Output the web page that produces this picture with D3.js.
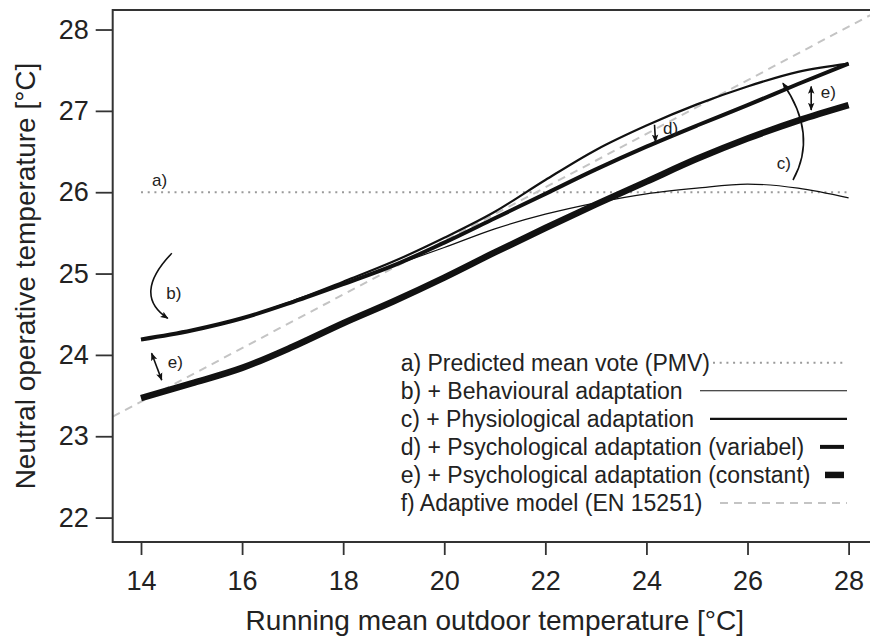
<!DOCTYPE html>
<html>
<head>
<meta charset="utf-8">
<script src="https://cdn.jsdelivr.net/npm/d3@7"></script>
<style>
  body { margin: 0; background: #fff; }
  text { font-family: "Liberation Sans", Arial, sans-serif; fill: #222; }
</style>
</head>
<body>
<div id="wrapper"></div>
<script>
// running mean outdoor temperature (x) and neutral temperatures per model
const outdoor = [14, 15, 16, 17, 18, 19, 20, 21, 22, 23, 24, 25, 26, 27, 28];
const behavioural = [24.19, 24.30, 24.45, 24.66, 24.88, 25.10, 25.32, 25.55, 25.73, 25.87, 25.98, 26.05, 26.10, 26.05, 25.93];
const physiological = [24.19, 24.30, 24.45, 24.66, 24.90, 25.15, 25.44, 25.76, 26.15, 26.52, 26.82, 27.08, 27.30, 27.48, 27.58];
const psychVariable = [24.19, 24.30, 24.45, 24.65, 24.87, 25.10, 25.38, 25.68, 25.98, 26.28, 26.56, 26.82, 27.07, 27.33, 27.58];
const psychConstant = [23.47, 23.65, 23.84, 24.10, 24.39, 24.66, 24.95, 25.26, 25.56, 25.85, 26.13, 26.41, 26.66, 26.88, 27.07];
const pmvX = [14, 28];
const pmvY = [26, 26];
const adaptiveX = [13.44, 28.56];
const adaptiveY = [23.24, 28.22];

const xTicks = [14, 16, 18, 20, 22, 24, 26, 28];
const yTicks = [22, 23, 24, 25, 26, 27, 28];

const legendLabels = [
  "a) Predicted mean vote (PMV)",
  "b) + Behavioural adaptation",
  "c) + Physiological adaptation",
  "d) + Psychological adaptation (variabel)",
  "e) + Psychological adaptation (constant)",
  "f) Adaptive model (EN 15251)",
];

let dimensions = {
  width: 870, height: 639,
  margin: { top: 10, left: 112.7 },
  boundedWidth: 764.2,
  boundedHeight: 532,
};

const styles = [
  { dash: "2,4.7", width: 2, color: "#9a9a9a", x0: 713, x1: 847 },
  { dash: null, width: 1.2, color: "#111", x0: 700, x1: 847 },
  { dash: null, width: 2.2, color: "#111", x0: 710, x1: 847 },
  { dash: null, width: 4, color: "#111", x0: 820, x1: 844 },
  { dash: null, width: 6.5, color: "#111", x0: 825, x1: 844 },
  { dash: "8,6", width: 2, color: "#c4c4c4", x0: 720, x1: 847 },
];

const wrapper = d3.select("#wrapper").append("svg")
  .attr("width", dimensions.width)
  .attr("height", dimensions.height);

const defs = wrapper.append("defs");
defs.append("clipPath").attr("id", "plotclip")
  .append("rect")
  .attr("width", dimensions.boundedWidth)
  .attr("height", dimensions.boundedHeight);
defs.append("marker")
  .attr("id", "head")
  .attr("viewBox", "0 0 10 10")
  .attr("refX", 9).attr("refY", 5)
  .attr("markerUnits", "userSpaceOnUse")
  .attr("markerWidth", 8).attr("markerHeight", 8)
  .attr("orient", "auto-start-reverse")
  .append("path").attr("d", "M0,1 L10,5 L0,9 L2,5 z").attr("fill", "#111");

const bounds = wrapper.append("g")
  .attr("transform", `translate(${dimensions.margin.left},${dimensions.margin.top})`);

const xScale = d3.scaleLinear()
  .domain([13.44, 28.56])
  .range([0, dimensions.boundedWidth]);

const yScale = d3.scaleLinear()
  .domain([21.70, 28.24])
  .range([dimensions.boundedHeight, 0]);

const lineGenerator = d3.line()
  .x(d => xScale(d[0]))
  .y(d => yScale(d[1]))
  .curve(d3.curveMonotoneX);

const plot = bounds.append("g").attr("clip-path", "url(#plotclip)");

const series = [
  { xs: pmvX, ys: pmvY, s: styles[0] },
  { xs: adaptiveX, ys: adaptiveY, s: styles[5] },
  { xs: outdoor, ys: behavioural, s: styles[1] },
  { xs: outdoor, ys: physiological, s: styles[2] },
  { xs: outdoor, ys: psychVariable, s: styles[3] },
  { xs: outdoor, ys: psychConstant, s: styles[4] },
];

series.forEach(({ xs, ys, s }) => {
  plot.append("path")
    .attr("d", lineGenerator(xs.map((x, i) => [x, ys[i]])))
    .attr("fill", "none")
    .attr("stroke", s.color)
    .attr("stroke-width", s.width)
    .attr("stroke-dasharray", s.dash);
});

// annotations in data units
const arrows = [
  { pts: [[14.61, 25.25], [13.82, 24.74], [14.53, 24.45]], start: false },
  { pts: [[26.90, 26.15], [27.40, 26.71], [26.70, 27.34]], start: false },
  { pts: [[14.21, 24.02], [14.41, 23.69]], start: true },
  { pts: [[27.26, 27.30], [27.26, 27.01]], start: true },
  { pts: [[24.16, 26.83], [24.18, 26.62]], start: false },
];
const notes = [
  { label: "a)", x: 14.22, y: 26.15 },
  { label: "b)", x: 14.50, y: 24.76 },
  { label: "c)", x: 26.58, y: 26.36 },
  { label: "d)", x: 24.33, y: 26.79 },
  { label: "e)", x: 14.53, y: 23.91 },
  { label: "e)", x: 27.45, y: 27.23 },
];

arrows.forEach(a => {
  const p = a.pts.map(d => [xScale(d[0]), yScale(d[1])]);
  const d = p.length === 3
    ? `M${p[0]}Q${p[1]} ${p[2]}`
    : `M${p[0]}L${p[1]}`;
  bounds.append("path")
    .attr("d", d)
    .attr("fill", "none")
    .attr("stroke", "#111")
    .attr("stroke-width", 1.6)
    .attr("marker-end", "url(#head)")
    .attr("marker-start", a.start ? "url(#head)" : null);
});

bounds.selectAll(".note").data(notes).join("text")
  .attr("class", "note")
  .attr("x", d => xScale(d.x))
  .attr("y", d => yScale(d.y))
  .attr("dy", "0.35em")
  .style("font-size", "17px")
  .text(d => d.label);

// legend
const legend = wrapper.append("g");
legendLabels.forEach((label, i) => {
  const y = 362.7 + i * 28.06;
  legend.append("text")
    .attr("x", 400.7).attr("y", y).attr("dy", "0.35em")
    .style("font-size", "23px")
    .text(label);
  const s = styles[i];
  legend.append("line")
    .attr("x1", s.x0).attr("x2", s.x1)
    .attr("y1", y).attr("y2", y)
    .attr("stroke", s.color)
    .attr("stroke-width", s.width)
    .attr("stroke-dasharray", s.dash);
});

// box
bounds.append("rect")
  .attr("width", dimensions.boundedWidth)
  .attr("height", dimensions.boundedHeight)
  .attr("fill", "none")
  .attr("stroke", "#333")
  .attr("stroke-width", 2);

const yAxisGenerator = d3.axisLeft(yScale).tickValues(yTicks)
  .tickFormat(d3.format("d")).tickSize(17).tickPadding(7);
const yAxis = bounds.append("g").call(yAxisGenerator);
const xAxisGenerator = d3.axisBottom(xScale).tickValues(xTicks)
  .tickFormat(d3.format("d")).tickSize(13).tickPadding(16);
const xAxis = bounds.append("g")
  .attr("transform", `translate(0,${dimensions.boundedHeight})`)
  .call(xAxisGenerator);

[xAxis, yAxis].forEach(ax => {
  ax.select(".domain").remove();
  ax.selectAll(".tick line").attr("stroke", "#333").attr("stroke-width", 1.8);
  ax.selectAll(".tick text")
    .style("font-family", '"Liberation Sans", Arial, sans-serif')
    .style("font-size", "27px")
    .attr("fill", "#222");
});

wrapper.append("text")
  .attr("x", dimensions.margin.left + dimensions.boundedWidth / 2)
  .attr("y", 630)
  .attr("text-anchor", "middle")
  .style("font-size", "28px")
  .text("Running mean outdoor temperature [°C]");

wrapper.append("text")
  .attr("transform", `translate(35,${dimensions.margin.top + dimensions.boundedHeight / 2}) rotate(-90)`)
  .attr("text-anchor", "middle")
  .style("font-size", "28px")
  .text("Neutral operative temperature [°C]");
</script>
</body>
</html>
